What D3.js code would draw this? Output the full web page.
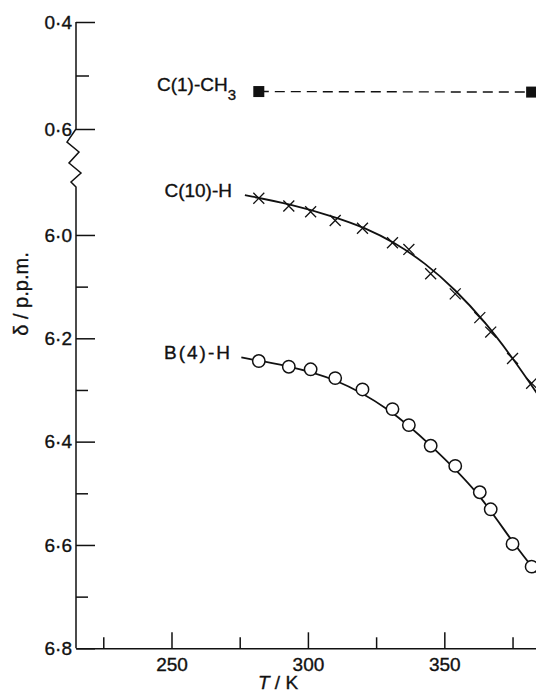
<!DOCTYPE html>
<html>
<head>
<meta charset="utf-8">
<script src="https://cdn.jsdelivr.net/npm/d3@7"></script>
<style>
  body { margin: 0; background: #fff; }
  svg { display: block; font-family: "Liberation Sans", Arial, sans-serif; }
  .axis text { font-size: 19px; fill: #111; stroke: #111; stroke-width: 0.35px; }
  .axis line, .axis path { stroke: #111; stroke-width: 1.5; }
  .lab { fill: #111; stroke: #111; stroke-width: 0.35px; }
</style>
</head>
<body>
<div class="chart"></div>
<script>
// temperatures (K) shared by the C(10)-H and B(4)-H runs
const temps = [282, 293, 301, 310, 320, 331, 337, 345, 354, 363, 367, 375, 382];
const c10H = [5.929, 5.944, 5.955, 5.972, 5.987, 6.015, 6.028, 6.075, 6.114, 6.160, 6.188, 6.239, 6.287];
const b4H = [6.244, 6.255, 6.260, 6.277, 6.299, 6.337, 6.368, 6.408, 6.447, 6.498, 6.531, 6.598, 6.642];

// C(1)-CH3, only two points
const c1Temps = [282, 382];
const c1CH3 = [0.530, 0.531];

// drawn fit curves, knots [T, delta]
const c10Fit = [[276.9, 5.923], [293.4, 5.940], [309.9, 5.965], [320.9, 5.986], [331.9, 6.015],
                [342.9, 6.054], [353.9, 6.105], [364.9, 6.168], [374.8, 6.236], [386.9, 6.329]];
const b4Fit = [[275.6, 6.237], [292.4, 6.253], [309.7, 6.276], [330.1, 6.336], [345.1, 6.407],
               [362.4, 6.496], [375.0, 6.596], [387.1, 6.675]];

const xMajor = [250, 300, 350];
const xMinor = [225, 275, 325, 375];
const yUpMajor = [0.4, 0.6];
const yUpMinor = [0.5];
const yLowMajor = [6.0, 6.2, 6.4, 6.6, 6.8];
const yLowMinor = [6.1, 6.3, 6.5, 6.7];

const width = 536, height = 694;
const axisX = 76;

const svg = d3.select(".chart")
    .append("svg")
    .attr("width", width)
    .attr("height", height);

// scales
const x = d3.scaleLinear().domain([215, 383.6]).range([axisX, width]);
const yUp = d3.scaleLinear().domain([0.4, 0.6]).range([22, 129]);
const yLow = d3.scaleLinear().domain([5.9, 6.8]).range([183.3, 648.3]);

const fmt = d => d3.format(".1f")(d).replace(".", "\u00B7");

// x axis
svg.append("g")
    .attr("class", "axis")
    .attr("transform", `translate(0,${yLow(6.8)})`)
    .call(d3.axisBottom(x).tickValues(xMajor).tickSize(-16).tickSizeOuter(0).tickPadding(9));

svg.append("g")
    .attr("class", "axis")
    .attr("transform", `translate(0,${yLow(6.8)})`)
    .call(d3.axisBottom(x).tickValues(xMinor).tickSize(-11).tickFormat(""))
    .call(g => g.select(".domain").remove());

// y axis, upper piece
svg.append("g")
    .attr("class", "axis")
    .attr("transform", `translate(${axisX},0)`)
    .call(d3.axisLeft(yUp).tickValues(yUpMajor).tickSize(-19).tickPadding(4).tickFormat(fmt))
    .call(g => g.select(".domain").remove());
svg.append("g")
    .attr("class", "axis")
    .attr("transform", `translate(${axisX},0)`)
    .call(d3.axisLeft(yUp).tickValues(yUpMinor).tickSize(-13).tickFormat(""))
    .call(g => g.select(".domain").remove());

// y axis, lower piece
svg.append("g")
    .attr("class", "axis")
    .attr("transform", `translate(${axisX},0)`)
    .call(d3.axisLeft(yLow).tickValues(yLowMajor).tickSize(-19).tickPadding(4).tickFormat(fmt))
    .call(g => g.select(".domain").remove());
svg.append("g")
    .attr("class", "axis")
    .attr("transform", `translate(${axisX},0)`)
    .call(d3.axisLeft(yLow).tickValues(yLowMinor).tickSize(-12).tickFormat(""))
    .call(g => g.select(".domain").remove());

// axis line with the zigzag break
const y0 = yUp(0.4), y1 = yUp(0.6), yb = yLow(6.8);
const breakPath = d3.path();
breakPath.moveTo(axisX, y0);
breakPath.lineTo(axisX, y1);
[[-9, 13], [3, 23], [-7, 34], [5, 44], [-5, 53], [0, 58]].forEach(([dx, dy]) => breakPath.lineTo(axisX + dx, y1 + dy));
breakPath.lineTo(axisX, yb);
svg.append("path")
    .attr("d", breakPath.toString())
    .attr("fill", "none")
    .attr("stroke", "#111")
    .attr("stroke-width", 1.5);

// axis titles
svg.append("text")
    .attr("class", "lab")
    .attr("transform", "translate(28,294) rotate(-90)")
    .attr("text-anchor", "middle")
    .style("font-size", "20px")
    .text("\u03B4 / p.p.m.");

const xt = svg.append("text")
    .attr("class", "lab")
    .attr("x", 278)
    .attr("y", 689)
    .attr("text-anchor", "middle")
    .style("font-size", "19px");
xt.append("tspan").style("font-style", "italic").text("T");
xt.append("tspan").text(" / K");

// fit curves
const lineLow = d3.line().x(d => x(d[0])).y(d => yLow(d[1])).curve(d3.curveBasis);

[c10Fit, b4Fit].forEach(fit => {
    svg.append("path")
        .attr("d", lineLow(fit))
        .attr("fill", "none")
        .attr("stroke", "#111")
        .attr("stroke-width", 1.8);
});

const c10Pts = temps.map((t, i) => [t, c10H[i]]);
const b4Pts = temps.map((t, i) => [t, b4H[i]]);

// C(1)-CH3 dashed line and squares
svg.append("line")
    .attr("x1", x(c1Temps[0])).attr("y1", yUp(c1CH3[0]))
    .attr("x2", x(c1Temps[1])).attr("y2", yUp(c1CH3[1]))
    .attr("stroke", "#111")
    .attr("stroke-width", 1.4)
    .attr("stroke-dasharray", "10,6");

svg.selectAll(".sq")
    .data(c1Temps)
    .join("rect")
    .attr("x", d => x(d) - 5.5)
    .attr("y", (d, i) => yUp(c1CH3[i]) - 5.5)
    .attr("width", 11)
    .attr("height", 11)
    .attr("fill", "#111");

// crosses
svg.selectAll(".cross")
    .data(c10Pts)
    .join("path")
    .attr("transform", d => `translate(${x(d[0])},${yLow(d[1])})`)
    .attr("d", d3.symbol(d3.symbolX, 80))
    .attr("fill", "none")
    .attr("stroke", "#111")
    .attr("stroke-width", 1.3);

// circles
svg.selectAll(".circ")
    .data(b4Pts)
    .join("circle")
    .attr("cx", d => x(d[0]))
    .attr("cy", d => yLow(d[1]))
    .attr("r", 6.2)
    .attr("fill", "#fff")
    .attr("stroke", "#111")
    .attr("stroke-width", 1.5);

// series labels
const lab = svg.append("g")
    .attr("class", "lab")
    .style("font-size", "19px")
    .attr("text-anchor", "end");

const c1Lab = lab.append("text").attr("x", 236).attr("y", yUp(c1CH3[0]) - 1);
c1Lab.append("tspan").text("C(1)-CH");
c1Lab.append("tspan").attr("dy", 9).style("font-size", "15px").text("3");

lab.append("text").attr("x", 232).attr("y", yLow(c10Fit[0][1]) + 2).text("C(10)-H");
lab.append("text").attr("x", 232).attr("y", yLow(b4Fit[0][1]) + 2)
    .style("letter-spacing", "2px").text("B(4)-H");
</script>
</body>
</html>
